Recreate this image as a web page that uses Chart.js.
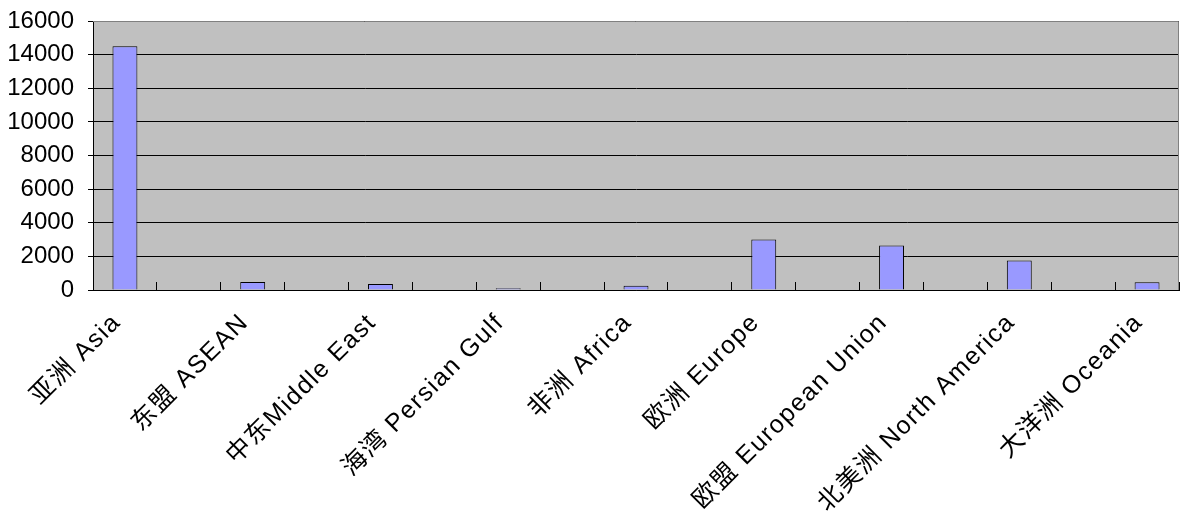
<!DOCTYPE html>
<html>
<head>
<meta charset="utf-8">
<script src="https://cdn.jsdelivr.net/npm/chart.js@4"></script>
<style>
  html, body { margin: 0; padding: 0; background: #fff; }
  #wrap { width: 1181px; height: 520px; }
</style>
</head>
<body>
<div id="wrap"><canvas id="chart" width="1181" height="520"></canvas></div>
<script>
// 17 category slots; only every other one carries a label in the original
const regions = [
  '亚洲 Asia', '', '东盟 ASEAN', '', '中东Middle East', '', '海湾 Persian Gulf', '',
  '非洲 Africa', '', '欧洲 Europe', '', '欧盟 European Union', '',
  '北美洲 North America', '', '大洋洲 Oceania'
];
const amounts = [
  14500, null, 470, null, 350, null, 110, null,
  250, null, 3000, null, 2650, null, 1760, null, 460
];
const yTicks = [0, 2000, 4000, 6000, 8000, 10000, 12000, 14000, 16000];

const plotFrame = {
  id: 'plotFrame',
  beforeDraw(chart) {
    const { ctx, chartArea: a } = chart;
    ctx.save();
    ctx.fillStyle = '#c0c0c0';
    ctx.fillRect(a.left, a.top, a.right - a.left, a.bottom - a.top);
    ctx.restore();
  },
  afterDraw(chart) {
    const { ctx, chartArea: a } = chart;
    ctx.save();
    ctx.strokeStyle = '#808080';
    ctx.lineWidth = 1;
    ctx.beginPath();
    ctx.moveTo(a.left, a.top + 0.5);
    ctx.lineTo(a.right - 0.5, a.top + 0.5);
    ctx.lineTo(a.right - 0.5, a.bottom);
    ctx.stroke();
    ctx.restore();
  }
};

new Chart(document.getElementById('chart'), {
  type: 'bar',
  data: {
    labels: regions,
    datasets: [{
      data: amounts,
      backgroundColor: '#9999ff',
      borderColor: '#000000',
      borderWidth: 1,
      barPercentage: 0.39,
      categoryPercentage: 1
    }]
  },
  options: {
    responsive: false,
    animation: false,
    layout: { padding: { top: 21, right: 2, left: 0, bottom: 0 } },
    plugins: {
      legend: { display: false },
      tooltip: { enabled: false }
    },
    scales: {
      x: {
        afterFit(scale) {
          scale.height = 230;
          scale.paddingLeft = 0;
          scale.paddingRight = 0;
          // the original spreads the letters of the slanted labels a bit
          if (!scale._spaced) {
            const drawLabels = scale.drawLabels;
            scale.drawLabels = function (area) {
              this.ctx.save();
              this.ctx.letterSpacing = '1.5px';
              drawLabels.call(this, area);
              this.ctx.restore();
            };
            scale._spaced = true;
          }
        },
        grid: {
          offset: true,
          drawOnChartArea: false,
          tickLength: -8,
          color: '#000000'
        },
        border: { color: '#000000', width: 1 },
        ticks: {
          autoSkip: false,
          maxRotation: 45,
          minRotation: 45,
          padding: 26,
          labelOffset: -8,
          color: '#000000',
          font: { family: 'Liberation Sans, Arial, Noto Sans CJK SC', size: 25 }
        }
      },
      y: {
        min: 0,
        max: 16000,
        afterFit(scale) {
          scale.width = 93;
          scale.paddingTop = 0;
          scale.paddingBottom = 0;
        },
        afterBuildTicks(scale) { scale.ticks = yTicks.map(v => ({ value: v })); },
        grid: { color: '#000000', tickLength: 5 },
        border: { color: '#000000', width: 1 },
        ticks: {
          padding: 14,
          color: '#000000',
          font: { family: 'Liberation Sans, Arial', size: 24 },
          callback: v => String(v)
        }
      }
    }
  },
  plugins: [plotFrame]
});
</script>
</body>
</html>
